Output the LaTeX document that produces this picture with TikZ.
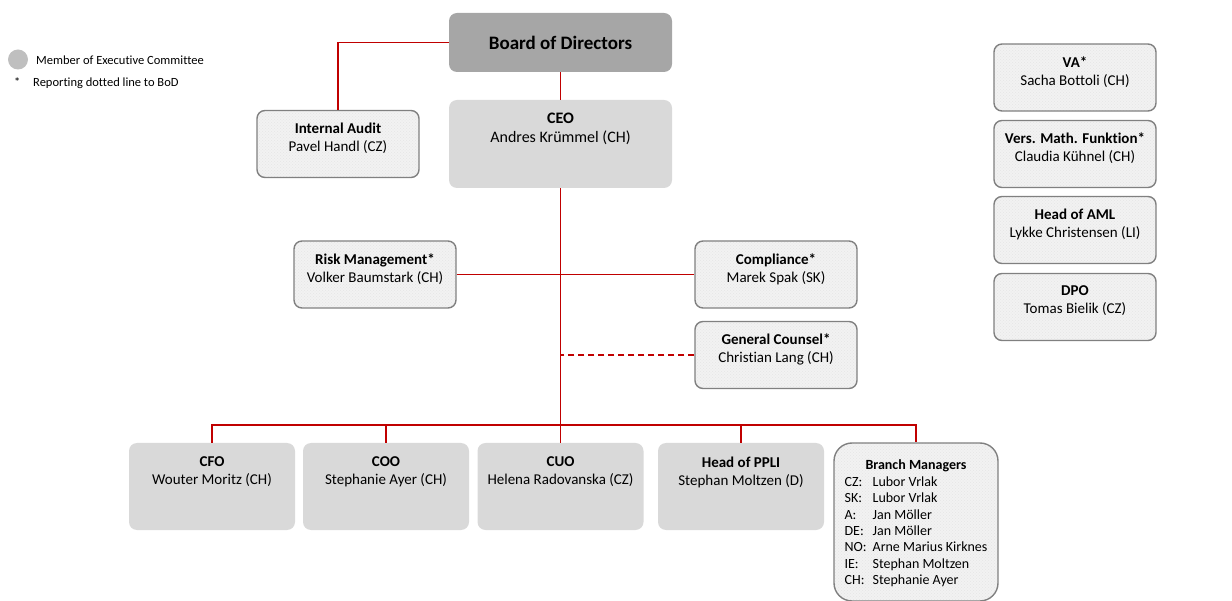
\documentclass[tikz,border=0pt]{standalone}
\usepackage{fontspec}
\setmainfont{Carlito}[Ligatures=NoCommon]
\usetikzlibrary{patterns}
\definecolor{linkred}{HTML}{C00000}
\definecolor{boardgray}{HTML}{A6A6A6}
\definecolor{execgray}{HTML}{D9D9D9}
\definecolor{edgegray}{HTML}{808080}
\tikzset{
  link/.style={draw=linkred, line width=1.5pt},
  board/.style={fill=boardgray, rounded corners=8pt, minimum width=223pt,
    minimum height=59pt, font=\fontsize{19}{22}\selectfont\bfseries},
  exec/.style={fill=execgray, rounded corners=8pt, minimum width=166pt,
    minimum height=87pt},
  staff/.style={draw=edgegray, line width=1.4pt, preaction={fill=black!5},
    pattern=crosshatch dots, pattern color=black!10, rounded corners=8pt,
    minimum width=162pt, minimum height=67pt},
  boxtext/.style={anchor=north, align=center, inner sep=0pt,
    font=\fontsize{15}{18}\selectfont},
  legend/.style={inner sep=0pt, font=\fontsize{12.5}{14}\selectfont},
}
\begin{document}
\begin{tikzpicture}[x=1pt, y=-1pt]
  \useasboundingbox (0,0) rectangle (1232,601);

  % legend
  \node[circle, fill=black!25, minimum size=20pt, inner sep=0pt] (dot) at (18,59.5) {};
  \node[legend, anchor=base west] (dot-t) at (36,65) {Member of Executive Committee};
  \node[legend, anchor=base west] (star) at (14,87) {*};
  \node[legend, anchor=base west] (star-t) at (33,87) {Reporting dotted line to BoD};

  % board and ceo
  \node[board] (bod) at (560.5,42.5) {Board of Directors};
  \node[exec, minimum width=223pt, minimum height=88pt] (ceo) at (560.5,144) {};
  \node[boxtext, font=\fontsize{16}{19}\selectfont] (ceo-t) at ([yshift=-13.5pt]ceo.north)
    {\textbf{CEO}\\Andres Krümmel (CH)};

  % staff functions
  \node[staff] (audit) at (338,144) {};
  \node[boxtext] (audit-t) at ([yshift=-13pt]audit.north) {\textbf{Internal Audit}\\Pavel Handl (CZ)};
  \node[staff] (risk) at (375,274.5) {};
  \node[boxtext] (risk-t) at ([yshift=-13pt]risk.north) {\textbf{Risk Management*}\\Volker Baumstark (CH)};
  \node[staff] (compl) at (776,274.5) {};
  \node[boxtext] (compl-t) at ([yshift=-13pt]compl.north) {\textbf{Compliance*}\\Marek Spak (SK)};
  \node[staff] (counsel) at (776,355) {};
  \node[boxtext] (counsel-t) at ([yshift=-13pt]counsel.north) {\textbf{General Counsel*}\\Christian Lang (CH)};

  % right column
  \foreach \nm/\y/\ttl/\who in {va/77.5/VA*/Sacha Bottoli (CH),
      vmf/154/Vers. Math. Funktion*/Claudia Kühnel (CH),
      aml/230/Head of AML/Lykke Christensen (LI),
      dpo/307/DPO/Tomas Bielik (CZ)} {
    \node[staff] (\nm) at (1075,\y) {};
    \node[boxtext] (\nm-t) at ([yshift=-13pt]\nm.north) {\textbf{\ttl}\\\who};
  }

  % executive committee
  \foreach \nm/\x/\ttl/\who in {cfo/212/CFO/Wouter Moritz (CH),
      coo/386/COO/Stephanie Ayer (CH),
      cuo/560.5/CUO/Helena Radovanska (CZ),
      ppli/741/Head of PPLI/Stephan Moltzen (D)} {
    \node[exec] (\nm) at (\x,486.5) {};
    \node[boxtext] (\nm-t) at ([yshift=-13.5pt]\nm.north) {\textbf{\ttl}\\\who};
  }
  \node[staff, rounded corners=18pt, minimum width=164pt, minimum height=158pt] (branch) at (916,522) {};
  \node[boxtext, font=\fontsize{14}{16.3}\selectfont] (branch-t) at ([yshift=-17.5pt]branch.north)
    {\textbf{Branch Managers}\\[2pt]
     \begin{tabular}{@{}l@{\hspace{6pt}}l@{}}
       CZ: & Lubor Vrlak\\
       SK: & Lubor Vrlak\\
       A:  & Jan Möller\\
       DE: & Jan Möller\\
       NO: & Arne Marius Kirknes\\
       IE: & Stephan Moltzen\\
       CH: & Stephanie Ayer
     \end{tabular}};

  % reporting lines
  \coordinate (bus) at (560.5,425);
  \draw[link] (bod.west) -| (audit.north);
  \draw[link] (bod) -- (ceo);
  \draw[link] (ceo.south) -- (bus);
  \draw[link] (risk.east) -- (compl.west);
  \draw[link, dash pattern=on 6pt off 4pt] (counsel.west) -- (counsel.west -| ceo.south);
  \draw[link] (cfo.north) |- (bus) -| (branch.north);
  \foreach \nm in {coo,cuo,ppli}
    \draw[link] (\nm.north) -- (\nm.north |- bus);
\end{tikzpicture}
\end{document}
